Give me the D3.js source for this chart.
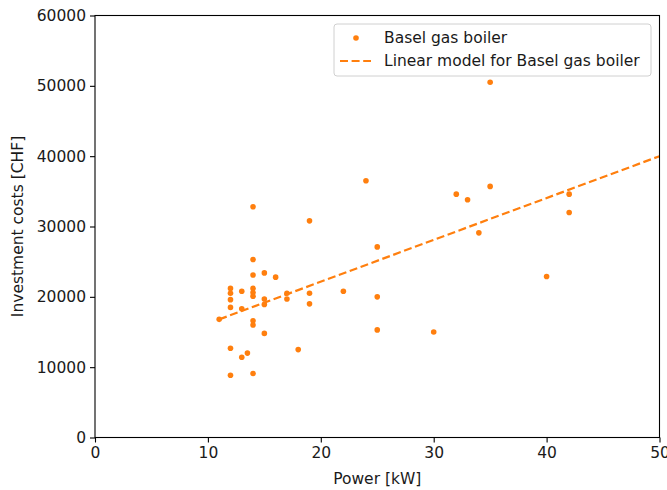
<!DOCTYPE html>
<html>
<head>
<meta charset="utf-8">
<script src="https://cdn.jsdelivr.net/npm/d3@7"></script>
<style>
  html, body { margin: 0; padding: 0; background: #fff; }
  svg { display: block; font-family: "DejaVu Sans", sans-serif; }
</style>
</head>
<body>
<svg id="chart" width="667" height="490"></svg>
<script>
// ---- data ----
const powerKW = [12, 12, 12, 12, 12, 12,
                 11,
                 13, 13, 13,
                 13.5,
                 14, 14, 14, 14, 14, 14, 14, 14, 14,
                 15, 15, 15, 15,
                 16,
                 17, 17,
                 18,
                 19, 19, 19,
                 22,
                 24,
                 25, 25, 25,
                 30,
                 32,
                 33,
                 34,
                 35, 35,
                 40,
                 42, 42];
const costCHF = [21200, 20500, 19600, 18500, 12700, 8850,
                 16800,
                 20800, 18300, 11400,
                 12000,
                 32800, 25300, 23100, 21200, 20600, 20100, 16600, 16000, 9100,
                 23400, 19700, 18900, 14800,
                 22800,
                 20500, 19700,
                 12500,
                 30800, 20500, 19000,
                 20800,
                 36500,
                 27100, 20000, 15300,
                 15000,
                 34600,
                 33800,
                 29100,
                 50500, 35700,
                 22900,
                 34600, 32000];
const modelSlope = 595;
const modelIntercept = 10250;
const modelX = [11, 50];
const xTicks = [0, 10, 20, 30, 40, 50];
const yTicks = [0, 10000, 20000, 30000, 40000, 50000, 60000];
const legendLabels = ["Basel gas boiler", "Linear model for Basel gas boiler"];
const xLabel = "Power [kW]";
const yLabel = "Investment costs [CHF]";

// ---- layout ----
const color = "#ff7f0e";
const L = 95, R = 659.5, T = 15.5, B = 437.5;
const fs = 15.5;
const svg = d3.select("#chart");

const x = d3.scaleLinear().domain([0, 50]).range([L, R]);
const y = d3.scaleLinear().domain([0, 60000]).range([B, T]);

// points
const pts = powerKW.map((p, i) => ({ p, c: costCHF[i] }));
svg.append("g").selectAll("circle").data(pts).join("circle")
  .attr("cx", d => x(d.p)).attr("cy", d => y(d.c)).attr("r", 2.8)
  .attr("fill", color);

// model line
const line = d3.line().x(d => x(d)).y(d => y(modelSlope * d + modelIntercept));
svg.append("path").datum(modelX).attr("d", line)
  .attr("fill", "none").attr("stroke", color).attr("stroke-width", 2.2)
  .attr("stroke-dasharray", "8,3.6");

// axes
const xAxis = d3.axisBottom(x).tickValues(xTicks).tickSize(5).tickPadding(4).tickFormat(d3.format("d"));
const yAxis = d3.axisLeft(y).tickValues(yTicks).tickSize(5).tickPadding(4).tickFormat(d3.format("d"));
const gx = svg.append("g").attr("transform", `translate(0,${B})`).call(xAxis);
const gy = svg.append("g").attr("transform", `translate(${L},0)`).call(yAxis);
[gx, gy].forEach(g => {
  g.select(".domain").remove();
  g.selectAll("line").attr("stroke", "#000").attr("stroke-width", 1.1);
  g.selectAll("text").attr("font-size", fs).attr("fill", "#1a1a1a")
    .attr("font-family", "DejaVu Sans");
});

// frame
svg.append("rect").attr("x", L).attr("y", T).attr("width", R - L).attr("height", B - T)
  .attr("fill", "none").attr("stroke", "#000").attr("stroke-width", 1.1);

// labels
svg.append("text").attr("x", (L + R) / 2).attr("y", 484)
  .attr("text-anchor", "middle").attr("font-size", fs).attr("fill", "#1a1a1a").text(xLabel);
svg.append("text").attr("transform", `translate(23,${(T + B) / 2}) rotate(-90)`)
  .attr("text-anchor", "middle").attr("font-size", fs).attr("fill", "#1a1a1a").text(yLabel);

// legend
const lg = svg.append("g");
lg.append("rect").attr("x", 334).attr("y", 24).attr("width", 317).attr("height", 52)
  .attr("rx", 3).attr("fill", "#fff").attr("fill-opacity", 0.8)
  .attr("stroke", "#d0d0d0").attr("stroke-width", 1);
lg.append("circle").attr("cx", 356).attr("cy", 38).attr("r", 2.8).attr("fill", color);
lg.append("line").attr("x1", 340).attr("x2", 371).attr("y1", 61).attr("y2", 61)
  .attr("stroke", color).attr("stroke-width", 2.2).attr("stroke-dasharray", "8,3.6");
lg.selectAll("text.lt").data(legendLabels).join("text").attr("class", "lt")
  .attr("x", 384).attr("y", (d, i) => 43 + i * 23)
  .attr("font-size", fs).attr("fill", "#1a1a1a").text(d => d);
</script>
</body>
</html>
